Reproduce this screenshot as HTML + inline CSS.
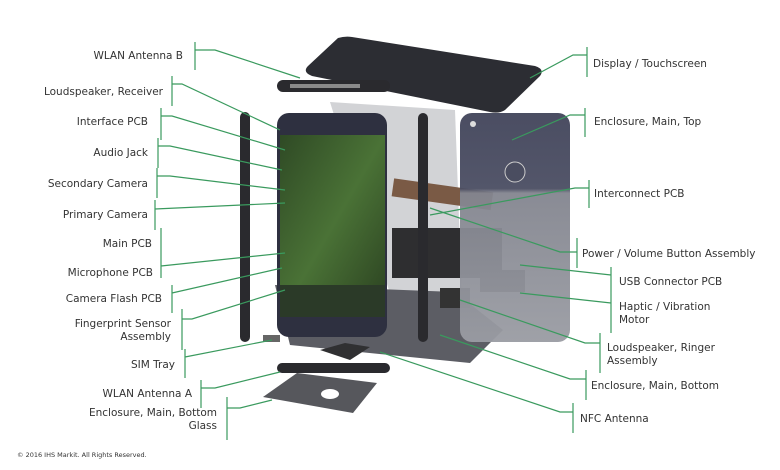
<!DOCTYPE html>
<html><head><style>
body{margin:0;background:#fff;width:780px;height:465px;overflow:hidden}
svg text{font-family:"DejaVu Sans","Liberation Sans",sans-serif;font-size:10.5px;fill:#333}
</style></head><body>
<svg width="780" height="465" viewBox="0 0 780 465">
<defs>
<linearGradient id="grass" x1="0" y1="0" x2="1" y2="1"><stop offset="0" stop-color="#2f4a25"/><stop offset=".5" stop-color="#4a7236"/><stop offset="1" stop-color="#2a4020"/></linearGradient>
<linearGradient id="back" x1="0" y1="0" x2="0" y2="1"><stop offset="0" stop-color="#41445a"/><stop offset=".33" stop-color="#4a4d62"/><stop offset=".35" stop-color="#83858f"/><stop offset="1" stop-color="#9a9ca3"/></linearGradient>
</defs>
<!-- display -->
<path d="M338,38 Q345,36 352,37 L535,66 Q545,69 540,76 L505,110 Q499,114 490,112 L312,76 Q302,72 308,66 Z" fill="#2c2d33"/>
<!-- receiver top piece -->
<rect x="277" y="80" width="113" height="12" rx="6" fill="#2a2a2e"/>
<rect x="290" y="84" width="70" height="4" fill="#8a8a8a"/>
<!-- middle enclosure frame -->
<polygon points="330,102 455,110 462,300 392,300" fill="#d2d3d6"/>
<polygon points="275,285 455,292 503,330 470,363 290,345" fill="#5c5d64"/>
<rect x="392" y="185" width="100" height="18" fill="#7a5a45" transform="rotate(8 440 197)"/>
<rect x="392" y="228" width="110" height="50" fill="#2e2e30"/>
<rect x="440" y="288" width="30" height="20" fill="#333"/>
<rect x="480" y="270" width="45" height="22" fill="#333"/>
<!-- side bars -->
<rect x="240" y="112" width="10" height="230" rx="5" fill="#2a2a2e"/>
<rect x="418" y="113" width="10" height="229" rx="5" fill="#2a2a2e"/>
<!-- front phone -->
<rect x="277" y="113" width="110" height="224" rx="12" fill="#2e3040"/>
<rect x="280" y="135" width="105" height="182" fill="url(#grass)"/>
<rect x="280" y="285" width="105" height="32" fill="#2b3a28"/>
<!-- back phone -->
<rect x="460" y="113" width="110" height="229" rx="12" fill="url(#back)" opacity=".95"/>
<circle cx="515" cy="172" r="10" fill="#4a4d60" stroke="#ccc" stroke-width="1"/>
<circle cx="473" cy="124" r="3" fill="#ddd"/>
<!-- bottom parts -->
<rect x="263" y="335" width="17" height="7" fill="#666"/>
<polygon points="320,350 345,343 370,347 350,360" fill="#303032"/>
<rect x="277" y="363" width="113" height="10" rx="5" fill="#2a2a2e"/>
<polygon points="263,397 297,373 377,383 353,413" fill="#56575c"/>
<ellipse cx="330" cy="394" rx="9" ry="5" fill="#fff"/>

<g stroke="#3a9a5e" stroke-width="1.2" fill="none">
<path d="M195 42V70M195 50H215L300 78"/>
<path d="M172 76V106M172 84H182L280 130"/>
<path d="M161 108V140M161 116H172L285 150"/>
<path d="M158 138V168M158 146H170L282 170"/>
<path d="M157 168V198M157 176H170L285 190"/>
<path d="M155 200V230M155 209L285 203"/>
<path d="M161 228V278M161 266L285 253"/>
<path d="M172 285V313M172 293L282 268"/>
<path d="M182 309V350M182 319H192L285 290"/>
<path d="M185 349V378M185 357L272 340"/>
<path d="M201 380V408M201 388H215L280 372"/>
<path d="M227 397V440M227 408H240L272 400"/>
<path d="M587 47V77M587 55H573L530 78"/>
<path d="M585 108V137M585 115H570L512 140"/>
<path d="M589 180V208M589 188H575L430 215"/>
<path d="M577 238V268M577 252H560L430 208"/>
<path d="M611 267V333M611 275L520 265M611 303L520 293"/>
<path d="M600 333V373M600 343H585L460 300"/>
<path d="M586 370V400M586 379H570L440 335"/>
<path d="M573 403V433M573 412H560L380 352"/>
</g>
<g text-anchor="end">
<text x="183" y="59">WLAN Antenna B</text>
<text x="163" y="95">Loudspeaker, Receiver</text>
<text x="148" y="125">Interface PCB</text>
<text x="148" y="156">Audio Jack</text>
<text x="148" y="187">Secondary Camera</text>
<text x="148" y="218">Primary Camera</text>
<text x="152" y="247">Main PCB</text>
<text x="153" y="276">Microphone PCB</text>
<text x="162" y="302">Camera Flash PCB</text>
<text x="171" y="327">Fingerprint Sensor</text>
<text x="171" y="340">Assembly</text>
<text x="175" y="368">SIM Tray</text>
<text x="192" y="397">WLAN Antenna A</text>
<text x="217" y="416">Enclosure, Main, Bottom</text>
<text x="217" y="429">Glass</text>
</g>
<text x="593" y="67">Display / Touchscreen</text>
<text x="594" y="125">Enclosure, Main, Top</text>
<text x="594" y="197">Interconnect PCB</text>
<text x="582" y="257">Power / Volume Button Assembly</text>
<text x="619" y="285">USB Connector PCB</text>
<text x="619" y="310">Haptic / Vibration</text>
<text x="619" y="323">Motor</text>
<text x="607" y="351">Loudspeaker, Ringer</text>
<text x="607" y="364">Assembly</text>
<text x="591" y="389">Enclosure, Main, Bottom</text>
<text x="580" y="422">NFC Antenna</text>
<text x="17" y="457" style="font-size:6.5px">© 2016 IHS Markit. All Rights Reserved.</text>
</svg>
</body></html>
